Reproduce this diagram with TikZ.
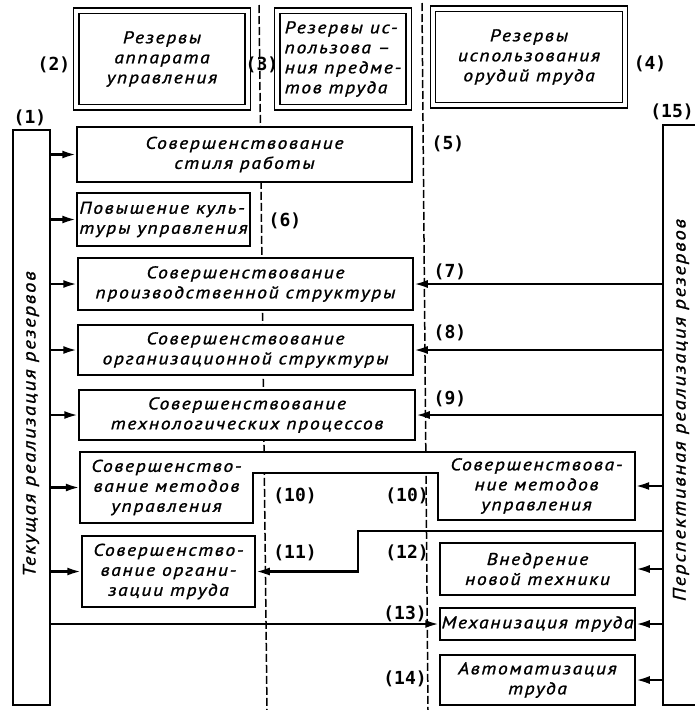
\documentclass[tikz,border=0pt]{standalone}
\usepackage{fontspec}
\usetikzlibrary{arrows.meta}
\newfontfamily\gostfont{PT Sans}[LetterSpace=10, FakeStretch=1.15, FakeBold=1.2]
\newfontfamily\numfont{DejaVu Sans Mono}

\begin{document}
\begin{tikzpicture}[
  x=1pt, y=-1pt,
  txt/.style={font=\gostfont\itshape\fontsize{17}{20}\selectfont,
    align=center, inner sep=0pt},
  blk/.style={txt, draw, fill=white, line width=1.5pt},
  rsv/.style={txt, draw, fill=white, line width=1.4pt,
    double, double distance=4pt},
  bar/.style={draw, fill=white, line width=1.5pt, inner sep=0pt},
  bartxt/.style={txt, rotate=90, font=\gostfont\itshape\fontsize{18}{20}\selectfont},
  num/.style={font=\numfont\bfseries\fontsize{18}{18}\selectfont,
    inner sep=0pt},
  sep/.style={line width=1.5pt, dash pattern=on 8pt off 3pt},
  arr/.style={line width=2.5pt, -{Latex[length=14pt,width=8pt]}}
]
  \useasboundingbox (0,0) rectangle (695,710);
  \draw[sep] (259,5) -- (267,710);
  \draw[sep] (422,3) -- (428,710);

  \node[rsv, minimum width=171.5pt, minimum height=96.5pt] (r2) at (162,59)
    {Резервы\\аппарата\\управления};
  \node[rsv, align=left, minimum width=131.5pt, minimum height=96.5pt] (r3) at (343,59)
    {Резервы ис-\\пользова –\\ния предме-\\тов труда};
  \node[rsv, minimum width=192pt, minimum height=96.5pt] (r4) at (529,57)
    {Резервы\\использования\\орудий труда};

  \node[blk, minimum width=335pt, minimum height=55pt] (b5) at (244.5,154.5)
    {Совершенствование\\стиля работы};
  \node[blk, align=left, minimum width=173pt, minimum height=53pt] (b6) at (163.5,219.5)
    {Повышение куль-\\туры управления};
  \node[blk, minimum width=335pt, minimum height=52pt] (b7) at (245.5,284)
    {Совершенствование\\производственной структуры};
  \node[blk, minimum width=335pt, minimum height=50pt] (b8) at (245.5,350)
    {Совершенствование\\организационной структуры};
  \node[blk, minimum width=336pt, minimum height=50pt] (b9) at (247,415)
    {Совершенствование\\технологических процессов};

  \draw[line width=1.5pt, fill=white] (80,452) -- (635,452) -- (635,520)
    -- (438,520) -- (438,473) -- (253,473) -- (253,523) -- (80,523) -- cycle;
  \node[txt, minimum width=173pt, minimum height=71pt] (m10l) at (166.5,487.5)
    {Совершенство-\\вание методов\\управления};
  \node[txt, minimum width=197pt, minimum height=68pt] (m10r) at (536.5,486)
    {Совершенствова-\\ние методов\\управления};

  \node[blk, minimum width=173pt, minimum height=71pt] (b11) at (168.5,571.5)
    {Совершенство-\\вание органи-\\зации труда};
  \node[blk, minimum width=195pt, minimum height=52pt] (b12) at (537.5,569)
    {Внедрение\\новой техники};
  \node[blk, minimum width=195pt, minimum height=32pt] (b13) at (537.5,624)
    {Механизация труда};
  \node[blk, minimum width=195pt, minimum height=50pt] (b14) at (537.5,680)
    {Автоматизация\\труда};

  \node[bar, minimum width=37pt, minimum height=575pt] (bar1) at (31.5,417.5) {};
  \node[bartxt] (t1) at (31,424) {Текущая реализация резервов};
  \node[bar, minimum width=42pt, minimum height=580pt] (bar15) at (684,415) {};
  \node[bartxt] (t15) at (681,410) {Перспективная реализация резервов};

  \foreach \b in {b5,b6,b7,b8,b9,m10l,b11,b13}
    \draw[arr] (bar1.east |- \b.west) -- (\b.west);
  \foreach \b in {b7,b8,b9,m10r,b12,b13,b14}
    \draw[arr] (bar15.west |- \b.east) -- (\b.east);
  \coordinate (s11) at (358,531);
  \draw[arr] (bar15.west |- s11) -- (s11) |- (b11.east);

  \foreach \nm/\t/\x/\y in {l1/1/30/118, l2/2/54/65, l3/3/262/65, l4/4/650/64,
      l5/5/448/144, l6/6/285/221, l7/7/450/272, l8/8/450/333, l9/9/450/399,
      l10a/10/295/496, l10b/10/407/496, l11/11/295/553, l12/12/407/553,
      l13/13/405/614, l14/14/405/679, l15/15/672/112}
    \node[num] (\nm) at (\x,\y) {(\t)};
\end{tikzpicture}
\end{document}
